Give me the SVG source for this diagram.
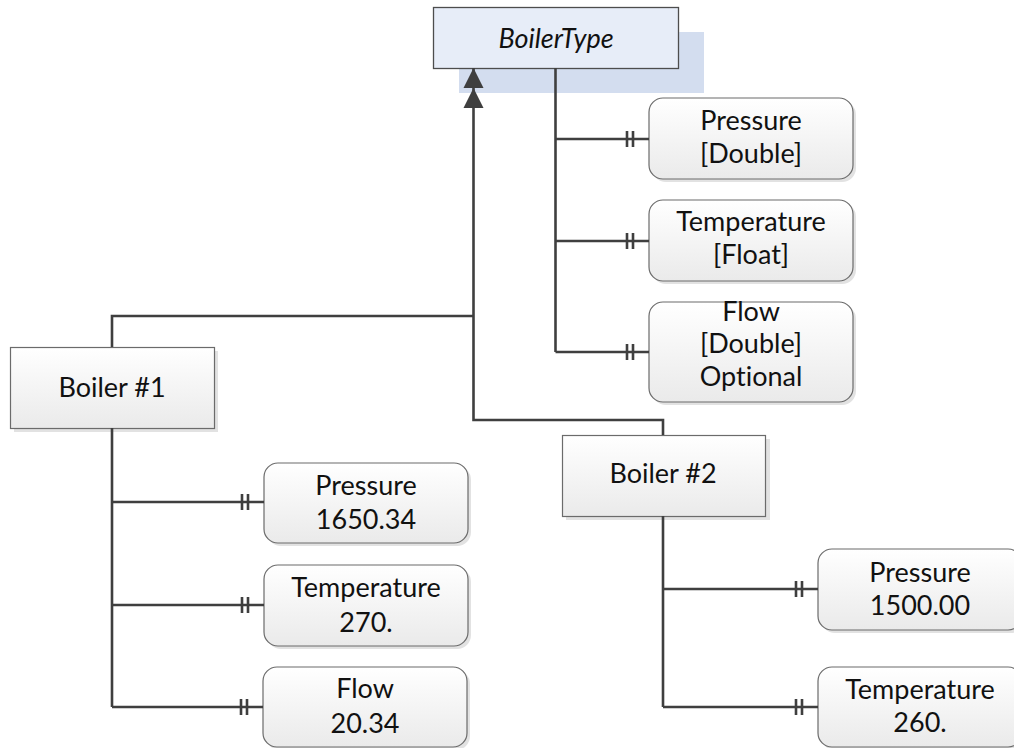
<svg xmlns="http://www.w3.org/2000/svg" width="1014" height="748" viewBox="0 0 1014 748">
  <defs>
    <linearGradient id="boxFill" x1="0" y1="0" x2="0" y2="1">
      <stop offset="0" stop-color="#ffffff"/>
      <stop offset="1" stop-color="#eaeaea"/>
    </linearGradient>
    <!-- double-bar "exactly one" mark placed just before the box edge -->
    <marker id="one" markerUnits="userSpaceOnUse" markerWidth="30" markerHeight="20" refX="24" refY="10" orient="auto" overflow="visible">
      <path d="M2 2 V18 M8 2 V18" stroke="#3f3f3f" stroke-width="2.6" fill="none"/>
    </marker>
    <!-- doubled inheritance arrowhead -->
    <marker id="inherit" markerUnits="userSpaceOnUse" markerWidth="42" markerHeight="22" refX="40" refY="10" orient="auto" overflow="visible">
      <path d="M40 10 L20 0 L20 20 Z M20 10 L0 0 L0 20 Z" fill="#3f3f3f"/>
    </marker>
  </defs>
  <style>
    .txt { font-family: "Lato", "Liberation Sans", sans-serif; font-size: 27px; fill: #111; text-anchor: middle; font-variant-ligatures: none; }
    .it { font-style: italic; }
    .box { fill: url(#boxFill); stroke: #6b6b6b; stroke-width: 1.2; }
    .shadow { fill: #e2e2e2; }
    .conn { fill: none; stroke: #3f3f3f; stroke-width: 2.6; }
  </style>
  <rect width="1014" height="748" fill="#ffffff"/>

  <!-- type node -->
  <g id="boiler-type">
    <rect x="459" y="32" width="245" height="61" fill="#d3ddef"/>
    <rect x="433.5" y="7.5" width="245" height="61" fill="#e7edf8" stroke="#4d4d4d" stroke-width="1.3"/>
    <text class="txt it" x="556" y="48">BoilerType</text>
  </g>

  <g id="type-pressure">
    <rect class="shadow" x="652" y="101" width="204" height="81" rx="14"/>
    <rect class="box" x="649" y="98" width="204" height="81" rx="14"/>
    <text class="txt" x="751" y="130">Pressure</text>
    <text class="txt" x="751" y="163">[Double]</text>
  </g>
  <g id="type-temperature">
    <rect class="shadow" x="652" y="203" width="204" height="81" rx="14"/>
    <rect class="box" x="649" y="200" width="204" height="81" rx="14"/>
    <text class="txt" x="751" y="231">Temperature</text>
    <text class="txt" x="751" y="264">[Float]</text>
  </g>
  <g id="type-flow">
    <rect class="shadow" x="652" y="305" width="204" height="100" rx="14"/>
    <rect class="box" x="649" y="302" width="204" height="100" rx="14"/>
    <text class="txt" x="751" y="321">Flow</text>
    <text class="txt" x="751" y="353">[Double]</text>
    <text class="txt" x="751" y="386">Optional</text>
  </g>

  <!-- instance 1 -->
  <g id="boiler-1">
    <rect class="shadow" x="14" y="351" width="204" height="81"/>
    <rect class="box" x="10.5" y="347.5" width="204" height="81"/>
    <text class="txt" x="112" y="397">Boiler #1</text>
  </g>
  <g id="boiler-1-pressure">
    <rect class="shadow" x="267" y="466" width="204" height="80" rx="14"/>
    <rect class="box" x="264" y="463" width="204" height="80" rx="14"/>
    <text class="txt" x="366" y="495">Pressure</text>
    <text class="txt" x="366" y="529">1650.34</text>
  </g>
  <g id="boiler-1-temperature">
    <rect class="shadow" x="267" y="568" width="204" height="81" rx="14"/>
    <rect class="box" x="264" y="565" width="204" height="81" rx="14"/>
    <text class="txt" x="366" y="597">Temperature</text>
    <text class="txt" x="366" y="632">270.</text>
  </g>
  <g id="boiler-1-flow">
    <rect class="shadow" x="266" y="670" width="204" height="80" rx="14"/>
    <rect class="box" x="263" y="667" width="204" height="80" rx="14"/>
    <text class="txt" x="365" y="698">Flow</text>
    <text class="txt" x="365" y="733">20.34</text>
  </g>

  <!-- instance 2 -->
  <g id="boiler-2">
    <rect class="shadow" x="566" y="439" width="204" height="81"/>
    <rect class="box" x="562.5" y="435.5" width="203" height="81"/>
    <text class="txt" x="663" y="483">Boiler #2</text>
  </g>
  <g id="boiler-2-pressure">
    <rect class="shadow" x="821" y="552" width="204" height="81" rx="14"/>
    <rect class="box" x="818" y="549" width="204" height="81" rx="14"/>
    <text class="txt" x="920" y="582">Pressure</text>
    <text class="txt" x="920" y="615">1500.00</text>
  </g>
  <g id="boiler-2-temperature">
    <rect class="shadow" x="821" y="670" width="204" height="80" rx="14"/>
    <rect class="box" x="818" y="667" width="204" height="80" rx="14"/>
    <text class="txt" x="920" y="699">Temperature</text>
    <text class="txt" x="920" y="732">260.</text>
  </g>

  <!-- connectors, drawn last so the arrowheads sit over the type node's backing panel -->
  <g id="connectors">
    <path class="conn" d="M112 347 V316 H473.5"/>
    <path class="conn" d="M663 435 V420 H473.5 V68" marker-end="url(#inherit)"/>
    <path class="conn" d="M555.5 68 V352"/>
    <path class="conn" d="M555.5 139 H649" marker-end="url(#one)"/>
    <path class="conn" d="M555.5 241 H649" marker-end="url(#one)"/>
    <path class="conn" d="M555.5 352 H649" marker-end="url(#one)"/>
    <path class="conn" d="M112 428 V707"/>
    <path class="conn" d="M112 502 H264" marker-end="url(#one)"/>
    <path class="conn" d="M112 605 H264" marker-end="url(#one)"/>
    <path class="conn" d="M112 707 H263" marker-end="url(#one)"/>
    <path class="conn" d="M663 516 V707"/>
    <path class="conn" d="M663 589 H818" marker-end="url(#one)"/>
    <path class="conn" d="M663 707 H818" marker-end="url(#one)"/>
  </g>
</svg>
